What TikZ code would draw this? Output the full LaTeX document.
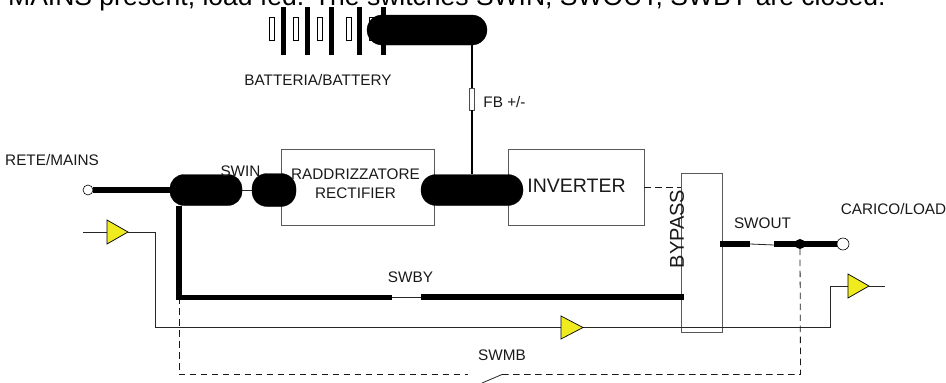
\documentclass[tikz,border=0pt]{standalone}
\usepackage{fontspec}
\setmainfont{Liberation Sans}
\usetikzlibrary{shapes.geometric}
\definecolor{bufyellow}{RGB}{240,235,30}
\tikzset{
  box/.style={draw=black!65,line width=0.9pt,fill=white,inner sep=0,anchor=center},
  pill/.style={fill=black,draw=black,line width=0.3pt,rounded corners=13pt,inner sep=0,anchor=center},
  tri/.style={draw=black,line width=0.7pt,fill=bufyellow},
  lbl/.style={inner sep=0,text=black!90,font=\fontsize{15.3}{17}\selectfont},
  thick line/.style={line width=6pt},
  mid line/.style={line width=2.5pt},
  thin line/.style={line width=0.8pt,black!85},
  dash line/.style={line width=0.8pt,black!90,dash pattern=on 6.5pt off 4.5pt},
  cell thin/.style={draw=black,line width=0.5pt,fill=white,inner sep=0,minimum width=5pt,minimum height=23pt},
  cell bar/.style={fill=black,inner sep=0,minimum width=5pt,minimum height=48pt},
  term/.style={circle,draw=black,line width=0.6pt,fill=white,inner sep=0},
}
\begin{document}
\begin{tikzpicture}[x=1pt,y=-1pt]
\useasboundingbox (0,0) rectangle (946,383);
\clip (0,0) rectangle (946,383);
\fill[white] (0,0) rectangle (946,383);

\node[inner sep=0,anchor=base west,font=\fontsize{26.5}{30}\selectfont] (title) at (8,5) {MAINS present, load fed. The switches SWIN, SWOUT, SWBY are closed.};

% battery
\foreach \n/\x in {a/272,b/296,c/320,d/349,e/372}
  \node[cell thin] (thin\n) at (\x,28.5) {};
\foreach \n/\x in {a/283,b/307,c/331,d/359,e/383}
  \node[cell bar] (bar\n) at (\x,31) {};
\node[pill,minimum width=120pt,minimum height=30pt,rounded corners=15pt] (battbus) at (427,30) {};
\node[lbl] (battlabel) at (318,80) {BATTERIA/BATTERY};

% blocks
\node[box,minimum width=153pt,minimum height=76pt] (rect) at (357.5,187) {};
\node[box,minimum width=136pt,minimum height=76pt] (inv) at (576,187) {};
\node[box,minimum width=41pt,minimum height=159pt] (byp) at (701.5,252.5) {};

% named points
\coordinate (mainsdrop) at (179,206);
\coordinate (corner) at (179,297);
\coordinate (swbyA) at (392,297);
\coordinate (swbyB) at (421,297);
\coordinate (bypin) at (684,297);
\coordinate (swoutA) at (750,244);
\coordinate (swoutB) at (774,245);
\coordinate (bypout) at (720,244);
\coordinate (mbcorner) at (179,374.5);
\coordinate (mbA) at (468,374.5);
\coordinate (mbB) at (482,383);
\coordinate (mbC) at (502,374.5);
\coordinate (mbD) at (800.5,374.5);
\coordinate (auxin) at (83,232);
\coordinate (auxout) at (885,286);
\coordinate (n1) at (155,232);
\coordinate (n2) at (155,327);
\coordinate (n3) at (830,327);
\coordinate (n4) at (830,286);

% terminals, dots, fuse
\node[term,minimum size=10pt] (mains) at (88,190) {};
\node[term,minimum size=12pt] (load) at (843,244) {};
\node[circle,fill=black,inner sep=0,minimum size=10pt] (dot) at (800,244) {};
\node[draw=black!70,line width=0.5pt,fill=white,inner sep=0,minimum width=5pt,minimum height=22pt] (fuse) at (472,99) {};

% thin connectors (behind pills and buffers)
\coordinate (t1in) at (107,232); \coordinate (t1out) at (128,232);
\coordinate (t2in) at (561,327); \coordinate (t2out) at (583,327);
\coordinate (t3in) at (848,286); \coordinate (t3out) at (869,286);
\draw[thin line] (auxin) -- (t1in);
\draw[thin line] (t1out) -- (n1) -- (n2) -- (t2in);
\draw[thin line] (t2out) -- (n3) -- (n4) -- (t3in);
\draw[thin line] (t3out) -- (auxout);
\draw[thin line] (swbyA) -- (swbyB);
\draw[thin line] (swoutA) -- (swoutB);
\draw[dash line] (inv.east) -- (byp.west |- inv.east);
\draw[dash line] (corner) -- (mbcorner) -- (mbA);
\draw[dash line] (mbC) -- (mbD) -- (dot.south);
\draw[line width=0.8pt,black!85] (mbB) -- (mbC);

% yellow buffers
\path[tri] (107,220) -- (128,232) -- (107,244) -- cycle;
\path[tri] (561,316) -- (583,327.5) -- (561,339) -- cycle;
\path[tri] (848,274) -- (869,286) -- (848,298) -- cycle;

% bus pills
\node[pill,minimum width=72pt,minimum height=31pt,rounded corners=14pt] (swinA) at (206,190) {};
\node[pill,minimum width=44pt,minimum height=33pt,rounded corners=15pt] (swinB) at (274,190) {};
\node[pill,minimum width=102pt,minimum height=31pt,rounded corners=15pt] (dcbus) at (472,190) {};
\draw[thin line] (swinA.east) -- (swinB.west);

% heavy connectors
\draw[mid line] (battbus.south -| fuse.north) -- (fuse.north);
\draw[mid line] (fuse.south) -- (dcbus.north);
\draw[thick line] (mains.east) -- (swinA.west);
\draw[thick line] (mainsdrop) -- (corner |- 0,300);
\draw[line width=5pt] (corner) -- (swbyA);
\draw[thick line] (swbyB) -- (bypin);
\draw[thick line] (bypout) -- (swoutA);
\draw[thick line] (swoutB |- load.west) -- (load.west);

% labels
\node[lbl] (lmains) at (52,160) {RETE/MAINS};
\node[lbl] (lswin) at (240.5,171) {SWIN};
\node[lbl,align=center,font=\fontsize{15.3}{19}\selectfont] (lrect) at (355.5,183.5) {RADDRIZZATORE\\RECTIFIER};
\node[lbl,font=\fontsize{19.5}{21}\selectfont] (linv) at (576.5,186) {INVERTER};
\node[lbl,rotate=90,font=\fontsize{20}{22}\selectfont] (lbyp) at (677,229) {BYPASS};
\node[lbl] (lfb) at (504.5,102) {FB +/-};
\node[lbl] (lswby) at (410.5,277) {SWBY};
\node[lbl] (lswmb) at (502,355) {SWMB};
\node[lbl] (lswout) at (762.5,223) {SWOUT};
\node[lbl] (lload) at (893.5,209) {CARICO/LOAD};
\end{tikzpicture}
\end{document}
